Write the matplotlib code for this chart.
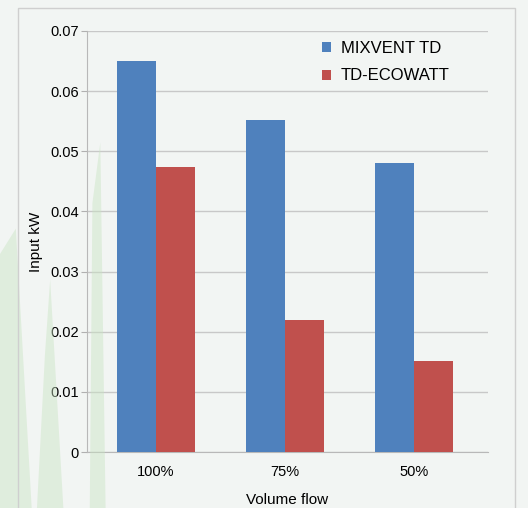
import matplotlib.pyplot as plt
from matplotlib.patches import Rectangle, Polygon

plt.rcParams['font.family'] = ['Liberation Sans', 'DejaVu Sans']

categories = ["100%", "75%", "50%"]
mixvent = [0.065, 0.0552, 0.048]
ecowatt = [0.0474, 0.0220, 0.0151]

fig = plt.figure(figsize=(5.28, 5.08), dpi=100, facecolor="#f2f5f3")

# soft background decoration: a few grass blades on the left and a thin frame
blades = [
    [(0.0, 0.0), (0.06, 0.0), (0.03, 0.55), (0.0, 0.5)],
    [(0.07, 0.0), (0.12, 0.0), (0.095, 0.45), (0.085, 0.3)],
    [(0.17, 0.0), (0.2, 0.0), (0.19, 0.72), (0.175, 0.6)],
]
for b in blades:
    fig.patches.append(Polygon(b, closed=True, transform=fig.transFigure,
                               facecolor="#c9e4c3", alpha=0.45, lw=0, zorder=0))
fig.patches.append(Rectangle((0.034, -0.01), 0.942, 0.995, transform=fig.transFigure,
                             facecolor="none", edgecolor="#cfcfcf", lw=1, zorder=1))

ax = fig.add_axes([0.165, 0.110, 0.759, 0.829])
ax.set_facecolor((1, 1, 1, 0.0))

x = range(len(categories))
w = 0.30
ax.bar([i - w / 2 for i in x], mixvent, w, color="#4f81bd", label="MIXVENT TD", zorder=3)
ax.bar([i + w / 2 for i in x], ecowatt, w, color="#c0504d", label="TD-ECOWATT", zorder=3)

ax.set_xlim(-0.535, 2.574)
ax.set_ylim(0, 0.07)
ax.set_yticks([0, 0.01, 0.02, 0.03, 0.04, 0.05, 0.06, 0.07])
ax.set_yticklabels(["0", "0.01", "0.02", "0.03", "0.04", "0.05", "0.06", "0.07"])
ax.set_xticks(list(x))
ax.set_xticklabels(categories)
ax.tick_params(axis="x", length=0, labelsize=10.5, pad=9)
ax.tick_params(axis="y", length=4, color="#b0b0b0", labelsize=10.5, pad=2)
ax.grid(axis="y", color="#c8c8c8", lw=1, zorder=0)

for s in ["top", "right"]:
    ax.spines[s].set_visible(False)
ax.spines["left"].set_color("#b8b8b8")
ax.spines["bottom"].set_color("#b8b8b8")

ax.set_xlabel("Volume flow", fontsize=11, labelpad=10)
ax.set_ylabel("Input kW", fontsize=11, labelpad=5)

ax.legend(loc="upper left", frameon=False, fontsize=12, handlelength=0.55,
          handleheight=0.55, handletextpad=0.6, labelspacing=0.75,
          bbox_to_anchor=(0.548, 1.012))

plt.savefig("out.png", dpi=100, facecolor=fig.get_facecolor())
